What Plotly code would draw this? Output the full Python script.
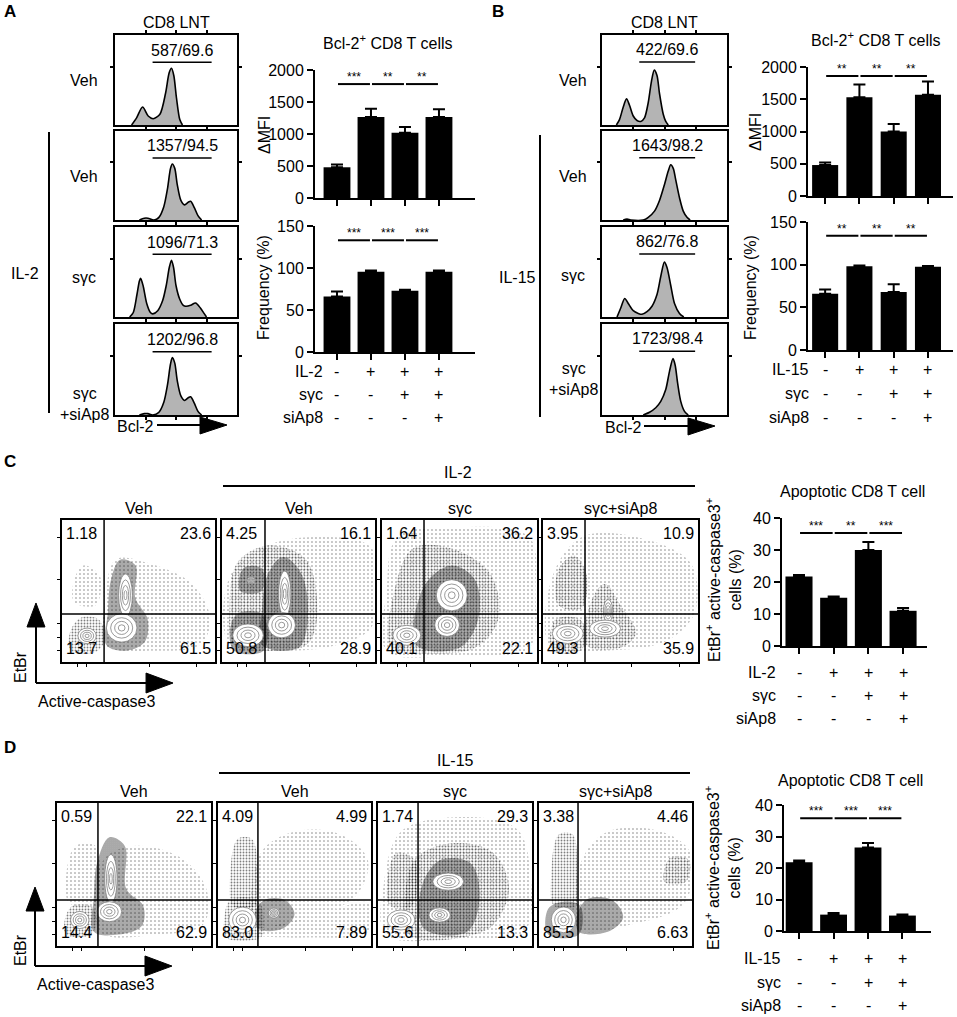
import plotly.graph_objects as go

W, H = 957, 1017
FONT = "Liberation Sans, Arial, sans-serif"

# ---------------- data ----------------
row_labels_A = ["Veh", "Veh", "sγc", "sγc<br>+siAp8"]
gate_text_A = ["587/69.6", "1357/94.5", "1096/71.3", "1202/96.8"]
gate_text_B = ["422/69.6", "1643/98.2", "862/76.8", "1723/98.4"]

# Bcl-2 histograms (x: % of axis width, y: % of box height)
hist_A_x = [
    [13.6, 17.7, 22.6, 27.2, 31.3, 36.8, 41.4, 44.4, 46.3, 48.2, 50.4, 53.1, 55.3],
    [20, 24, 27, 32, 36, 40, 43, 45.5, 47, 49, 51, 54, 57, 60, 62, 65, 68, 71],
    [12, 15, 18, 20, 21, 23, 26, 29, 31, 35, 39, 42, 44.5, 46.3, 48, 50, 53, 56, 58, 62, 66, 70, 73, 75],
    [20, 24, 27, 31, 36, 40, 43, 45.5, 47, 49, 51, 54, 57, 60, 62, 65, 68, 71],
]
hist_A_y = [
    [0, 8, 20, 10, 7, 12, 35, 58, 63, 55, 30, 6, 0],
    [0, 2, 2, 0, 3, 15, 35, 58, 63, 58, 40, 22, 17, 20, 21, 14, 5, 0],
    [0, 5, 25, 40, 43, 35, 15, 5, 3.5, 7, 18, 35, 55, 63, 55, 35, 20, 13, 12, 13, 15.5, 10, 4, 0],
    [0, 1.5, 1.5, 0, 3, 14, 33, 56, 63, 57, 38, 21, 16, 19, 20, 13, 4, 0],
]
hist_B_x = [
    [11.5, 14, 17, 19.6, 22, 25, 28, 31, 34, 37, 39.5, 41.8, 44, 46, 49, 51, 53],
    [17, 20, 23, 33, 37, 42, 46, 50, 53, 55, 57, 59, 62, 65, 68, 70.5],
    [12, 15, 18.2, 21, 25, 29, 32, 36, 40, 44, 47, 49.9, 52, 55, 58, 62, 65.4],
    [33, 38, 43, 47, 51, 54, 56.8, 58.5, 60.5, 63, 66, 69],
]
hist_B_y = [
    [0, 6, 20, 29, 22, 10, 5, 4, 8, 25, 48, 61, 55, 35, 12, 4, 0],
    [0, 1, 0, 0, 3, 10, 22, 40, 55, 62, 58, 45, 25, 10, 3, 0],
    [0, 10, 20.5, 15, 7, 4, 3, 6, 12, 25, 45, 61, 55, 35, 15, 4, 0],
    [0, 3, 8, 15, 28, 48, 62, 55, 35, 15, 4, 0],
]
gate_A = [30.8, 79.2, 69.6]
gate_B = [29.8, 74.5, 70.0]

# bar charts
bar_pos = [0, 1, 2, 3]
mfi_A = [480, 1265, 1020, 1265]
mfi_A_err = [45, 130, 90, 120]
freq_A = [66, 95.5, 73, 95.5]
freq_A_err = [6, 1.5, 1, 1.5]
mfi_B = [480, 1530, 1000, 1570]
mfi_B_err = [40, 200, 115, 205]
freq_B = [66, 98, 68, 97.7]
freq_B_err = [5, 1, 9, 0.8]
apop_C = [21.7, 15.1, 30.0, 11.0]
apop_C_err = [0.5, 0.4, 2.5, 0.9]
apop_D = [21.8, 5.2, 26.5, 4.9]
apop_D_err = [0.6, 0.5, 1.4, 0.3]

sig_mfi_A = ["***", "**", "**"]
sig_freq_A = ["***", "***", "***"]
sig_mfi_B = ["**", "**", "**"]
sig_freq_B = ["**", "**", "**"]
sig_C = ["***", "**", "***"]
sig_D = ["***", "***", "***"]
sig_level = {"mfi_A": 1780, "freq_A": 133, "mfi_B": 1860, "freq_B": 134, "C": 35.3, "D": 35.8}

cyto_row = ["-", "+", "+", "+"]
syc_row = ["-", "-", "+", "+"]
siap8_row = ["-", "-", "-", "+"]

# flow dot plots (coordinates in % of plot box)
dot_titles = ["Veh", "Veh", "sγc", "sγc+siAp8"]
quad_C = [["1.18", "23.6", "13.7", "61.5"], ["4.25", "16.1", "50.8", "28.9"],
          ["1.64", "36.2", "40.1", "22.1"], ["3.95", "10.9", "49.3", "35.9"]]
quad_D = [["0.59", "22.1", "14.4", "62.9"], ["4.09", "4.99", "83.0", "7.89"],
          ["1.74", "29.3", "55.6", "13.3"], ["3.38", "4.46", "85.5", "6.63"]]
gate_x_C = [27.5, 28.1, 27.1, 27.1]
gate_x_D = [26.6, 26.1, 26.0, 25.5]
gate_y_C = 33.8
gate_y_D = 32.2

clouds_C = [
    [("sparse", [28, 60, 90, 97, 85, 55, 35, 28], [12, 8, 12, 30, 55, 70, 72, 40]),
     ("sparse", [8, 22, 25, 14, 8], [42, 40, 60, 68, 58]),
     ("medium", [6, 22, 28, 24, 12, 5], [8, 7, 16, 30, 31, 20]),
     ("dense", [29, 42, 54, 56, 48, 48, 38, 32, 30], [12, 8, 14, 30, 45, 68, 72, 58, 35])],
    [("sparse", [5, 40, 75, 98, 98, 60, 25, 5], [12, 8, 12, 25, 80, 88, 80, 60]),
     ("medium", [8, 30, 55, 62, 55, 30, 10, 5], [12, 8, 12, 30, 72, 82, 70, 40]),
     ("dense", [26, 50, 56, 52, 40, 30, 26], [12, 10, 30, 62, 74, 62, 35]),
     ("dense", [8, 26, 30, 26, 10, 5], [8, 7, 18, 34, 34, 20]),
     ("dense", [12, 26, 26, 14], [50, 50, 66, 66])],
    [("sparse", [3, 50, 95, 99, 95, 50, 10, 3], [8, 5, 10, 50, 88, 95, 88, 50]),
     ("medium", [6, 30, 60, 75, 70, 45, 20, 8], [10, 6, 10, 30, 62, 80, 80, 50]),
     ("dense", [22, 50, 62, 60, 45, 28], [12, 10, 30, 58, 68, 55])],
    [("sparse", [5, 40, 80, 98, 95, 60, 25, 6], [10, 8, 15, 35, 70, 88, 88, 60]),
     ("medium", [10, 25, 28, 20, 10], [40, 38, 62, 75, 65]),
     ("medium", [28, 50, 60, 50, 40, 32], [12, 10, 20, 40, 55, 45]),
     ("medium", [6, 24, 28, 24, 8], [8, 8, 18, 30, 30])],
]
pops_C = [
    [(41.5, 47, 4.5, 15), (39, 24, 10, 10), (16.4, 18.4, 6, 5.5)],
    [(41, 48, 4, 16), (39, 26, 9, 9), (17, 18.8, 10, 8), (19, 57.6, 2.5, 2.5)],
    [(42, 26, 8, 8), (45, 47, 10, 11), (16, 18.8, 9, 7)],
    [(42, 36, 3, 8), (40, 23.5, 10, 6), (16, 20, 10, 7)],
]
clouds_D = [
    [("sparse", [28, 65, 95, 97, 80, 50, 30], [10, 8, 15, 40, 62, 70, 60]),
     ("sparse", [8, 24, 25, 12, 6], [30, 28, 70, 70, 50]),
     ("medium", [6, 22, 26, 22, 10, 5], [8, 8, 18, 28, 28, 18]),
     ("dense", [24, 40, 55, 56, 45, 44, 34, 26, 24], [10, 8, 14, 28, 40, 70, 76, 58, 35])],
    [("sparse", [25, 60, 90, 98, 80, 50, 28], [15, 20, 35, 60, 78, 80, 65]),
     ("sparse", [25, 60, 98, 99, 60, 30], [8, 6, 10, 30, 20, 12]),
     ("medium", [10, 24, 26, 22, 13, 8], [28, 28, 50, 75, 75, 50]),
     ("medium", [5, 28, 30, 26, 8, 4], [6, 6, 18, 32, 32, 18]),
     ("dense", [26, 42, 50, 44, 30, 24], [12, 12, 22, 32, 32, 22])],
    [("sparse", [5, 50, 95, 99, 90, 50, 15, 4], [8, 5, 10, 50, 82, 90, 80, 45]),
     ("medium", [20, 55, 75, 85, 75, 50, 25, 18], [8, 6, 15, 40, 65, 72, 62, 40]),
     ("dense", [30, 58, 66, 60, 40, 28], [12, 10, 35, 58, 60, 40]),
     ("medium", [8, 22, 24, 12, 6], [28, 28, 60, 65, 45])],
    [("sparse", [25, 60, 95, 99, 80, 45, 28], [12, 15, 30, 65, 80, 80, 60]),
     ("medium", [10, 24, 25, 22, 13, 8], [28, 28, 55, 78, 78, 50]),
     ("dense", [26, 45, 55, 48, 32, 25], [10, 10, 20, 32, 33, 22]),
     ("dense", [6, 26, 27, 16, 6], [8, 8, 28, 31, 26]),
     ("medium", [82, 96, 98, 86], [45, 45, 60, 62])],
]
pops_D = [
    [(35, 47, 4, 17), (34, 24, 8, 7), (14.8, 18.2, 6, 6)],
    [(16, 18.2, 9, 9), (36.5, 23, 3.5, 3.5)],
    [(40, 21.7, 7, 5), (45.6, 45, 10, 6), (15, 18.2, 9, 7)],
    [(16, 18.3, 8, 9)],
]

# ---------------- drawing ----------------
DENSITY = {"sparse": (4, 0.12), "medium": (3, 0.3), "dense": (2, 0.62)}
RINGS = [1.0, 0.72, 0.46, 0.22]
FS = 16

fig = go.Figure()
shapes, annos = [], []
n_ax = [0]


def axes(box, xr, yr, xkw=None, ykw=None):
    n_ax[0] += 1
    s = "" if n_ax[0] == 1 else str(n_ax[0])
    left, top, right, bottom = box
    base = dict(showgrid=False, zeroline=False, linecolor="black", tickcolor="black",
                fixedrange=True, showticklabels=False, automargin=False)
    xa = dict(base, domain=[left / W, right / W], range=xr, anchor="y" + s)
    ya = dict(base, domain=[1 - bottom / H, 1 - top / H], range=yr, anchor="x" + s)
    xa.update(xkw or {})
    ya.update(ykw or {})
    fig.update_layout({"xaxis" + s: xa, "yaxis" + s: ya})
    return "x" + s, "y" + s


def text(px, py, t, size=FS, **kw):
    a = dict(x=px / W, y=1 - py / H, xref="paper", yref="paper", text=t, showarrow=False,
             xanchor="center", yanchor="middle", font=dict(size=size, family=FONT, color="black"))
    a.update(kw)
    annos.append(a)


def pline(x0, y0, x1, y1, w=2):
    shapes.append(dict(type="line", xref="paper", yref="paper", x0=x0 / W, y0=1 - y0 / H,
                       x1=x1 / W, y1=1 - y1 / H, line=dict(color="black", width=w)))


def tri(pts):
    d = "M " + " L ".join(f"{x / W:.4f},{1 - y / H:.4f}" for x, y in pts) + " Z"
    shapes.append(dict(type="path", xref="paper", yref="paper", path=d,
                       fillcolor="black", line=dict(color="black", width=1)))


# --- histograms (A, B)
hist_rows = [(35, 125), (131, 220), (227, 317), (324, 415)]
frame = dict(showline=True, mirror="ticks", linewidth=2, ticks="outside", ticklen=3, tickwidth=1.5)
for left, right, xs_l, ys_l, gtxt, gate in [(115, 237, hist_A_x, hist_A_y, gate_text_A, gate_A),
                                            (602, 727, hist_B_x, hist_B_y, gate_text_B, gate_B)]:
    for i, (top, bottom) in enumerate(hist_rows):
        xa, ya = axes((left, top, right, bottom), [0, 100], [0, 100],
                      dict(frame, tickvals=[25, 50, 75]), dict(frame, tickvals=[65]))
        fig.add_trace(go.Scatter(x=xs_l[i], y=ys_l[i], xaxis=xa, yaxis=ya, mode="lines",
                                 line=dict(color="black", width=1.6, shape="spline", smoothing=0.8),
                                 fill="tozeroy", fillcolor="#b4b4b4", hoverinfo="skip"))
        shapes.append(dict(type="line", xref=xa, yref=ya, x0=gate[0], x1=gate[1],
                           y0=gate[2], y1=gate[2], line=dict(color="black", width=1.5)))
        annos.append(dict(x=(gate[0] + gate[1]) / 2, y=gate[2] + 2, xref=xa, yref=ya,
                          text=gtxt[i], showarrow=False, xanchor="center", yanchor="bottom",
                          font=dict(size=FS, family=FONT, color="black")))

# --- bar charts
def bar_panel(box, xr, yr, ytick, vals, errs, width, sig, lvl):
    xa, ya = axes(box, xr, yr,
                  dict(showline=True, linewidth=2, ticks="outside", tickvals=bar_pos, ticklen=6, tickwidth=2),
                  dict(showline=True, linewidth=2, ticks="outside", tickvals=ytick, ticklen=6, tickwidth=2,
                       showticklabels=True, tickfont=dict(size=FS, family=FONT, color="black")))
    fig.add_trace(go.Bar(x=bar_pos, y=vals, xaxis=xa, yaxis=ya, width=width,
                         marker=dict(color="black", line=dict(width=0)), hoverinfo="skip",
                         error_y=dict(type="data", array=errs, arrayminus=[0] * 4, symmetric=False,
                                      color="black", thickness=2, width=6)))
    for i, s in enumerate(sig):
        shapes.append(dict(type="line", xref=xa, yref=ya, x0=i + 0.03, x1=i + 0.97, y0=lvl, y1=lvl,
                           line=dict(color="black", width=2)))
        annos.append(dict(x=i + 0.5, y=lvl, xref=xa, yref=ya, text=s, showarrow=False,
                          xanchor="center", yanchor="bottom", yshift=-2,
                          font=dict(size=12, family=FONT, color="black")))
    return xa


def table(xa, label_x, rows_y, first):
    for lab, row, py in zip([first, "sγc", "siAp8"], [cyto_row, syc_row, siap8_row], rows_y):
        text(label_x, py, lab, xanchor="right")
        for i, sym in enumerate(row):
            annos.append(dict(x=i, y=1 - py / H, xref=xa, yref="paper", text=sym, showarrow=False,
                              xanchor="center", yanchor="middle",
                              font=dict(size=FS, family=FONT, color="black")))


xa = bar_panel((315, 70, 475, 198), [-0.647, 4.06], [0, 2000], [0, 500, 1000, 1500, 2000],
               mfi_A, mfi_A_err, 0.79, sig_mfi_A, sig_level["mfi_A"])
xa = bar_panel((315, 226, 475, 352), [-0.647, 4.06], [0, 150], [0, 50, 100, 150],
               freq_A, freq_A_err, 0.79, sig_freq_A, sig_level["freq_A"])
table(xa, 325, [371, 395, 417], "IL-2")
xb = bar_panel((808, 67, 953, 196), [-0.5, 3.73], [0, 2000], [0, 500, 1000, 1500, 2000],
               mfi_B, mfi_B_err, 0.76, sig_mfi_B, sig_level["mfi_B"])
xb = bar_panel((808, 222, 953, 350), [-0.5, 3.73], [0, 150], [0, 50, 100, 150],
               freq_B, freq_B_err, 0.76, sig_freq_B, sig_level["freq_B"])
table(xb, 811, [369, 393, 417], "IL-15")
xc = bar_panel((782, 518, 927, 646), [-0.49, 3.69], [0, 40], [0, 10, 20, 30, 40],
               apop_C, apop_C_err, 0.78, sig_C, sig_level["C"])
table(xc, 778, [672, 695, 718], "IL-2")
xd = bar_panel((784, 805, 931, 931), [-0.44, 3.83], [0, 40], [0, 10, 20, 30, 40],
               apop_D, apop_D_err, 0.78, sig_D, sig_level["D"])
table(xd, 783, [958, 982, 1005], "IL-15")

# --- flow dot plots (C, D)
dot_frame = dict(showline=True, mirror=True, linewidth=2, ticks="outside", ticklen=3, tickwidth=1)
def dot_panel(box, clouds, pops, gx, gy, quad, title, title_y):
    xa, ya = axes(box, [0, 100], [0, 100], dict(dot_frame, tickvals=[10, 16, 57, 88]),
                  dict(dot_frame, tickvals=[8, 17, 27, 58, 88]))
    for lvl, xs, ys in clouds:
        size, sol = DENSITY[lvl]
        fig.add_trace(go.Scatter(x=xs + [xs[0]], y=ys + [ys[0]], xaxis=xa, yaxis=ya, mode="lines",
                                 line=dict(width=0, shape="spline"), fill="toself",
                                 fillcolor="rgba(0,0,0,0)", hoverinfo="skip",
                                 fillpattern=dict(shape=".", size=size, solidity=sol,
                                                  fgcolor="black", bgcolor="rgba(0,0,0,0)")))
    for cx, cy, rx, ry in pops:
        for j, s in enumerate(RINGS):
            shapes.append(dict(type="circle", xref=xa, yref=ya, x0=cx - rx * s, x1=cx + rx * s,
                               y0=cy - ry * s, y1=cy + ry * s, line=dict(color="#808080", width=0.8),
                               fillcolor="white" if j == 0 else "rgba(0,0,0,0)"))
    shapes.append(dict(type="line", xref=xa, yref=ya, x0=gx, x1=gx, y0=0, y1=100,
                       line=dict(color="black", width=1.5)))
    shapes.append(dict(type="line", xref=xa, yref=ya, x0=0, x1=100, y0=gy, y1=gy,
                       line=dict(color="black", width=1.5)))
    for t, x, y, xan, yan in zip(quad, [1.5, 98.5, 1.5, 98.5], [98, 98, 2, 2],
                                 ["left", "right", "left", "right"], ["top", "top", "bottom", "bottom"]):
        annos.append(dict(x=x, y=y, xref=xa, yref=ya, text=t, showarrow=False, xanchor=xan, yanchor=yan,
                          font=dict(size=FS, family=FONT, color="black")))
    text((box[0] + box[2]) / 2, title_y, title)


boxes_C = [(62, 520, 215, 662), (222, 520, 375, 662), (382, 520, 537, 662), (543, 520, 698, 662)]
boxes_D = [(57, 803, 211, 946), (218, 803, 371, 946), (378, 803, 532, 946), (539, 803, 692, 946)]
for i in range(4):
    dot_panel(boxes_C[i], clouds_C[i], pops_C[i], gate_x_C[i], gate_y_C, quad_C[i], dot_titles[i], 508)
    dot_panel(boxes_D[i], clouds_D[i], pops_D[i], gate_x_D[i], gate_y_D, quad_D[i], dot_titles[i], 791)

# --- labels and decorations
for lab, px, py in [("A", 10, 12), ("B", 498, 12), ("C", 10, 462), ("D", 10, 747)]:
    text(px, py, f"<b>{lab}</b>", size=17)
text(176, 22, "CD8 LNT")
text(664, 22, "CD8 LNT")
text(388, 42, "Bcl-2<sup>+</sup> CD8 T cells")
text(876, 39, "Bcl-2<sup>+</sup> CD8 T cells")
text(265, 135, "ΔMFI", textangle=-90)
text(263, 288, "Frequency (%)", textangle=-90)
text(755, 132, "ΔMFI", textangle=-90)
text(750, 288, "Frequency (%)", textangle=-90)

for lab, py in zip(row_labels_A, [80, 176, 277, 404]):
    text(84, py, lab)
for lab, py in zip(row_labels_A, [80, 176, 275, 379]):
    text(573, py, lab)
text(25, 273, "IL-2")
text(517, 277, "IL-15")
pline(49, 132, 49, 413)
pline(540, 135, 540, 417)

text(115, 426, "Bcl-2", xanchor="left")
pline(157, 425, 201, 425)
tri([(200, 417), (227, 425), (200, 434)])
text(603, 427, "Bcl-2", xanchor="left")
pline(644, 426, 689, 426)
tri([(688, 418), (715, 426), (688, 435)])

text(458, 473, "IL-2")
pline(223, 486, 695, 486)
text(455, 760, "IL-15")
pline(219, 773, 690, 773)
text(852, 492, "Apoptotic CD8 T cell")
text(850, 780, "Apoptotic CD8 T cell")
ylab = "EtBr<sup>+</sup> active-caspase3<sup>+</sup><br>cells (%)"
text(723, 580, ylab, textangle=-90)
text(722, 868, ylab, textangle=-90)

for vx, tip, base, hy, htip in [(36, 603, 683, 683, 173), (35, 887, 966, 966, 172)]:
    pline(vx, base, vx, tip + 22)
    tri([(vx - 9, tip + 24), (vx, tip), (vx + 9, tip + 24)])
    pline(vx, hy, htip - 25, hy)
    tri([(htip - 27, hy - 10), (htip, hy), (htip - 27, hy + 10)])
text(20, 667, "EtBr", textangle=-90)
text(36, 701, "Active-caspase3", xanchor="left")
text(20, 950, "EtBr", textangle=-90)
text(35, 984, "Active-caspase3", xanchor="left")

fig.update_layout(width=W, height=H, margin=dict(l=0, r=0, t=0, b=0, autoexpand=False),
                  paper_bgcolor="white", plot_bgcolor="white", showlegend=False,
                  shapes=shapes, annotations=annos, font=dict(family=FONT, color="black"))

# drop the browser's default page margin so the figure sits at the window origin
fig.write_html("out.html", config={"displayModeBar": False},
               post_script="document.body.style.margin='0';")
